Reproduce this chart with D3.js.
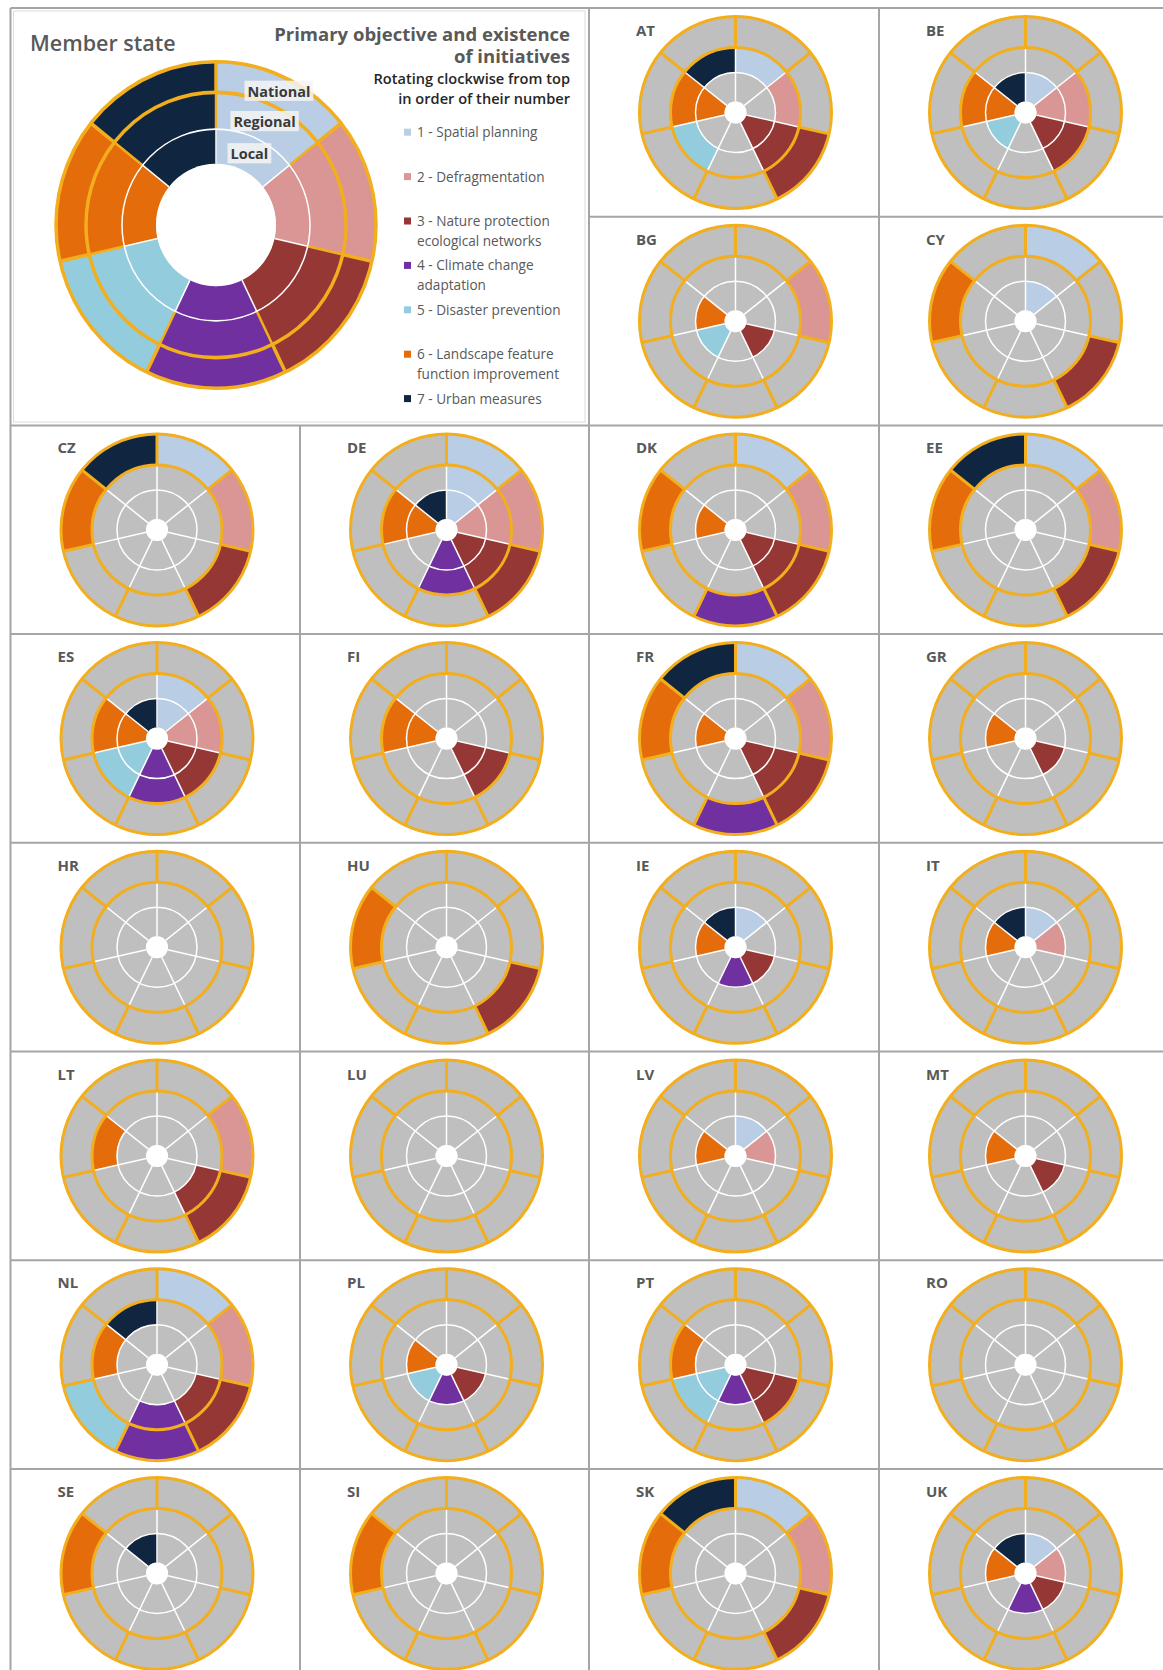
<!DOCTYPE html>
<html><head><meta charset="utf-8">
<script src="https://cdn.jsdelivr.net/npm/d3@7"></script>
<style>
body{margin:0;background:#fff;}
svg{display:block;font-family:"Open Sans",Lato,sans-serif;}
</style>
</head><body>
<svg id="chart" width="1163" height="1670"></svg>
<script>
// ---------- data ----------
const categoryIds = [1, 2, 3, 4, 5, 6, 7];
const categoryLabels = [
  ["1 - Spatial planning"],
  ["2 - Defragmentation"],
  ["3 - Nature protection", "ecological networks"],
  ["4 - Climate change", "adaptation"],
  ["5 - Disaster prevention"],
  ["6 - Landscape feature", "function improvement"],
  ["7 - Urban measures"]
];
const categoryColors = ["#b9cde5", "#d99694", "#953735", "#7030a0", "#93cddd", "#e46c0a", "#10253f"];
const levels = ["National", "Regional", "Local"];

const countries = ["AT","BE","BG","CY","CZ","DE","DK","EE","ES","FI","FR","GR","HR","HU",
                   "IE","IT","LT","LU","LV","MT","NL","PL","PT","RO","SE","SI","SK","UK"];
// categories with initiatives, per level
const national = [
  [3], [], [2], [1,3,6], [1,2,3,6,7], [1,2,3], [1,2,3,4,6], [1,2,3,6,7], [], [], [1,2,3,4,6,7], [], [], [3,6],
  [], [], [2,3], [], [], [], [1,2,3,4,5], [], [], [], [6], [6], [1,2,3,6,7], []
];
const regional = [
  [1,2,3,5,6,7], [2,3,6], [], [], [], [1,2,3,4,6], [3], [], [1,2,3,4,5,6], [3,6], [3], [], [], [],
  [], [], [3,6], [], [], [], [3,4,6,7], [], [3,5,6], [], [], [], [], []
];
const local = [
  [3,6], [1,2,3,5,6,7], [3,5,6], [1], [], [1,2,3,4,6,7], [3,6], [], [1,2,3,4,5,6,7], [3,6], [3,6], [3,6], [], [],
  [1,3,4,6,7], [1,2,6,7], [], [], [1,2,6], [3,6], [], [3,4,5,6], [3,4,5], [], [7], [], [], [1,2,3,4,6,7]
];
const titleLines = ["Primary objective and existence", "of initiatives"];
const subtitleLines = ["Rotating clockwise from top", "in order of their number"];

// ---------- style ----------
const GOLD = "#f2ae1c", GRAY = "#bfbfbf", GRID = "#a5a5a5", TXT = "#595959";
const svg = d3.select("#chart");
const colorScale = d3.scaleOrdinal().domain(categoryIds).range(categoryColors);
const angle = d3.scaleLinear().domain([0, categoryIds.length]).range([0, 2 * Math.PI]);

// grid geometry
const colX = [10.5, 300, 589, 879, 1168.5];
const rowTop0 = 8, rowPitch = 208.7;
const rowY = d3.range(9).map(i => rowTop0 + i * rowPitch);

// ---------- donut drawing ----------
function drawDonut(g, radii, sets, opts) {
  // radii: [hole, r2, r1, R]
  const ringR = {
    National: [radii[2], radii[3]],
    Regional: [radii[1], radii[2]],
    Local: [radii[0], radii[1]]
  };
  const cells = [];
  levels.forEach((lv, li) => {
    categoryIds.forEach((c, ci) => {
      cells.push({level: lv, cat: c, idx: ci, on: sets[li].includes(c)});
    });
  });
  const arc = d3.arc()
    .innerRadius(d => ringR[d.level][0])
    .outerRadius(d => ringR[d.level][1])
    .startAngle(d => angle(d.idx))
    .endAngle(d => angle(d.idx + 1));
  g.selectAll("path.cell").data(cells).join("path")
    .attr("class", "cell")
    .attr("d", arc)
    .attr("fill", d => d.on ? colorScale(d.cat) : GRAY)
    .attr("stroke", d => d.on ? colorScale(d.cat) : GRAY)
    .attr("stroke-width", 0.5);

  const pt = (r, a) => [r * Math.sin(a), -r * Math.cos(a)];
  const divs = d3.range(categoryIds.length).map(i => angle(i));
  g.selectAll("line.wdiv").data(divs).join("line")
    .attr("class", "wdiv")
    .attr("x1", a => pt(radii[0], a)[0]).attr("y1", a => pt(radii[0], a)[1])
    .attr("x2", a => pt(opts.goldMiddle ? radii[1] : radii[2], a)[0])
    .attr("y2", a => pt(opts.goldMiddle ? radii[1] : radii[2], a)[1])
    .attr("stroke", "#fff").attr("stroke-width", opts.thin);
  if (opts.goldMiddle) {
    g.selectAll("line.gmdiv").data(divs).join("line")
      .attr("class", "gmdiv")
      .attr("x1", a => pt(radii[1], a)[0]).attr("y1", a => pt(radii[1], a)[1])
      .attr("x2", a => pt(radii[2], a)[0]).attr("y2", a => pt(radii[2], a)[1])
      .attr("stroke", GOLD).attr("stroke-width", opts.thick * 0.7);
  }
  g.append("circle").attr("r", radii[1]).attr("fill", "none")
    .attr("stroke", "#fff").attr("stroke-width", opts.thin);
  g.selectAll("line.gdiv").data(divs).join("line")
    .attr("class", "gdiv")
    .attr("x1", a => pt(radii[2], a)[0]).attr("y1", a => pt(radii[2], a)[1])
    .attr("x2", a => pt(radii[3], a)[0]).attr("y2", a => pt(radii[3], a)[1])
    .attr("stroke", GOLD).attr("stroke-width", opts.thick);
  [radii[2], radii[3]].forEach(r => {
    g.append("circle").attr("r", r).attr("fill", "none")
      .attr("stroke", GOLD).attr("stroke-width", opts.thick);
  });
  g.append("circle").attr("r", radii[0]).attr("fill", "#fff");
  return ringR;
}

// ---------- grid lines ----------
const gridG = svg.append("g").attr("stroke", GRID).attr("stroke-width", 2);
gridG.append("line").attr("x1", colX[0]).attr("x2", 1163).attr("y1", rowY[0]).attr("y2", rowY[0]);
gridG.append("line").attr("x1", colX[2]).attr("x2", 1163).attr("y1", rowY[1]).attr("y2", rowY[1]);
d3.range(2, 8).forEach(i => {
  gridG.append("line").attr("x1", colX[0]).attr("x2", 1163).attr("y1", rowY[i]).attr("y2", rowY[i]);
});
gridG.append("line").attr("x1", colX[0]).attr("x2", colX[0]).attr("y1", rowY[0]).attr("y2", 1670);
gridG.append("line").attr("x1", colX[1]).attr("x2", colX[1]).attr("y1", rowY[2]).attr("y2", 1670);
gridG.append("line").attr("x1", colX[2]).attr("x2", colX[2]).attr("y1", rowY[0]).attr("y2", 1670);
gridG.append("line").attr("x1", colX[3]).attr("x2", colX[3]).attr("y1", rowY[0]).attr("y2", 1670);
svg.append("rect").attr("x", 13.5).attr("y", 11).attr("width", 571.5).attr("height", 411)
  .attr("fill", "none").attr("stroke", "#dcdcdc").attr("stroke-width", 1);

// ---------- key panel ----------
const key = svg.append("g");
key.append("text").attr("x", 30).attr("y", 51).text("Member state")
  .attr("font-size", 21.5).attr("font-weight", 600).attr("fill", TXT);
key.selectAll("text.title").data(titleLines).join("text").attr("class", "title")
  .attr("x", 570).attr("y", (d, i) => 41 + i * 22).attr("text-anchor", "end")
  .attr("font-size", 18.5).attr("font-weight", 700).attr("fill", TXT).text(d => d);
key.selectAll("text.sub").data(subtitleLines).join("text").attr("class", "sub")
  .attr("x", 570).attr("y", (d, i) => 84 + i * 20).attr("text-anchor", "end")
  .attr("font-size", 14.6).attr("font-weight", 600).attr("fill", "#262626").text(d => d);

const bigG = key.append("g").attr("transform", "translate(216,225) scale(1,1.02)");
const bigRadii = [60, 94, 130, 160];
const allSets = levels.map(() => categoryIds.slice());
const bigRing = drawDonut(bigG, bigRadii, allSets, {thin: 1.5, thick: 3.5, goldMiddle: true});
levels.forEach(lv => {
  const c = d3.arc().innerRadius(bigRing[lv][0]).outerRadius(bigRing[lv][1])
    .startAngle(angle(0)).endAngle(angle(1)).centroid();
  const t = bigG.append("text").attr("x", c[0]).attr("y", c[1] + 5)
    .attr("text-anchor", "middle").attr("font-size", 14.5).attr("font-weight", 700)
    .attr("fill", "#3a3a3a").text(lv);
  const bb = t.node().getBBox();
  bigG.insert("rect", () => t.node())
    .attr("x", bb.x - 3).attr("y", bb.y).attr("width", bb.width + 6).attr("height", bb.height)
    .attr("fill", "#f4f4f4").attr("opacity", 0.85);
});

// legend
const legG = key.append("g");
const legItems = legG.selectAll("g").data(categoryIds).join("g")
  .attr("transform", (d, i) => `translate(404,${132.7 + i * 44.4})`);
legItems.append("rect").attr("x", 0).attr("y", -4).attr("width", 7).attr("height", 7)
  .attr("fill", d => colorScale(d));
legItems.each(function(d, i) {
  d3.select(this).selectAll("text").data(categoryLabels[i]).join("text")
    .attr("x", 13).attr("y", (t, j) => 4.5 + j * 19.5)
    .attr("font-size", 13.6).attr("fill", TXT).text(t => t);
});

// ---------- country donuts ----------
const smallRadii = [11, 40, 65, 96];
countries.forEach((code, i) => {
  let col, row;
  if (i < 4) { col = 2 + (i % 2); row = Math.floor(i / 2); }
  else { col = (i - 4) % 4; row = 2 + Math.floor((i - 4) / 4); }
  const left = colX[col], top = rowY[row];
  const g = svg.append("g").attr("transform", `translate(${left + 146.5},${top + 104.5})`);
  drawDonut(g, smallRadii, [national[i], regional[i], local[i]], {thin: 1.5, thick: 3, goldMiddle: false});
  svg.append("text").attr("x", left + 47).attr("y", top + 28).text(code)
    .attr("font-size", 15).attr("font-weight", 700).attr("fill", TXT);
});
</script>
</body></html>
